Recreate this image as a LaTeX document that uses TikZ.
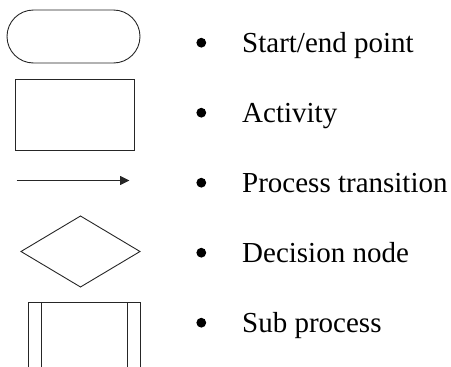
\documentclass[tikz,border=0pt]{standalone}
\usepackage{fontspec}
\setmainfont{Liberation Serif}
\usetikzlibrary{shapes.geometric,shapes.misc,arrows.meta}
\begin{document}
\begin{tikzpicture}[x=1pt,y=-1pt,
  sym/.style={draw=black!85,line width=0.9pt,inner sep=0pt,outer sep=0pt},
  legend/.style={anchor=base west,inner sep=0pt,font=\fontsize{29}{32}\selectfont},
  dot/.style={circle,fill=black,inner sep=0pt,minimum size=9.8pt}]
\useasboundingbox (0,0) rectangle (451,367);
% start/end terminal
\node[sym,rounded rectangle,minimum width=133pt,minimum height=53pt] (term) at (73.5,36.5) {};
% activity
\node[sym,rectangle,minimum width=119pt,minimum height=71pt] (act) at (74.5,114.5) {};
% transition arrow
\coordinate (a1) at (16.5,180.5);
\coordinate (a2) at (129.5,180.5);
\draw[sym,-{Triangle[length=9.5pt,width=9pt]}] (a1) -- (a2);
% decision
\node[sym,diamond,minimum width=119pt,minimum height=71pt] (dec) at (80.5,251.5) {};
% sub process (cut off at the lower edge)
\draw[sym] (28,368) -- (28,302.3) -- (140,302.3) -- (140,368);
\draw[sym] (41.7,302.3) -- (41.7,368);
\draw[sym] (127,302.3) -- (127,368);
% legend entries
\foreach \i/\t in {0/Start\slash end point,1/Activity,2/Process transition,3/Decision node,4/Sub process}{
  \node[dot] (b\i) at (201.3,42.7+70*\i) {};
  \node[legend] (l\i) at (242,52+70*\i) {\t};
}
\end{tikzpicture}
\end{document}
